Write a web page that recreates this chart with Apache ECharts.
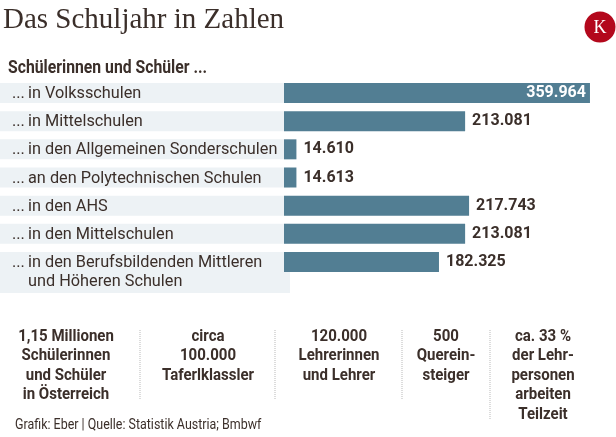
<!DOCTYPE html>
<html><head><meta charset="utf-8">
<script src="https://cdn.jsdelivr.net/npm/echarts@6/dist/echarts.min.js"></script>
<style>html,body{margin:0;padding:0;background:#fff}#c{width:616px;height:437px}</style>
</head><body><div id="c"></div>
<script>
// ---- data ----
const titleText = "Das Schuljahr in Zahlen";
const subtitleText = "Schülerinnen und Schüler ...";
const categories = [
  "... in Volksschulen",
  "... in Mittelschulen",
  "... in den Allgemeinen Sonderschulen",
  "... an den Polytechnischen Schulen",
  "... in den AHS",
  "... in den Mittelschulen",
  "... in den Berufsbildenden Mittleren\nund Höheren Schulen"
];
const values = [359964, 213081, 14610, 14613, 217743, 213081, 182325];
const statTexts = [
  "1,15 Millionen\nSchülerinnen\nund Schüler\nin Österreich",
  "circa\n100.000\nTaferlklassler",
  "120.000\nLehrerinnen\nund Lehrer",
  "500\nQuerein-\nsteiger",
  "ca. 33 %\nder Lehr-\npersonen\narbeiten\nTeilzeit"
];
const sourceText = "Grafik: Eber | Quelle: Statistik Austria; Bmbwf";

// ---- style/layout ----
const TXT = '#3b2f2a';
const BAR = '#527e93';
const BAND = '#edf2f5';
const FONT = 'Roboto, sans-serif';
const BARW = 20;
const fmt = v => String(v).replace(/\B(?=(\d{3})+(?!\d))/g, '.');
const maxV = Math.max(...values);

const chart = echarts.init(document.getElementById('c'), null, {renderer: 'canvas'});

const statCenters = [66, 208, 339, 446, 543];
const seps = [[140, 330, 400], [275, 330, 400], [402, 330, 400], [490, 330, 420]];

const graphics = [
  {type: 'text', left: 3, top: 6, style: {text: titleText, font: '29px "Liberation Serif", serif', fill: TXT}},
  {type: 'circle', shape: {cx: 600, cy: 27, r: 15.5}, style: {fill: '#b3081c'}},
  {type: 'text', x: 600, y: 28, style: {text: 'K', font: '18px "Liberation Serif", serif', fill: '#fff', align: 'center', verticalAlign: 'middle'}},
  {type: 'text', x: 8, y: 69, scaleX: 0.9, style: {text: subtitleText, font: 'bold 17.5px ' + FONT, fill: TXT, verticalAlign: 'middle'}},
  {type: 'text', x: 15, y: 425, scaleX: 0.89, style: {text: sourceText, font: '14px ' + FONT, fill: TXT, verticalAlign: 'middle'}}
];
statTexts.forEach((t, i) => {
  graphics.push({type: 'text', x: statCenters[i], y: 327, scaleX: 0.91, style: {text: t, font: 'bold 16.5px ' + FONT, fill: TXT, align: 'center', verticalAlign: 'top', lineHeight: 19.5}});
});
seps.forEach(s => {
  graphics.push({type: 'line', shape: {x1: s[0], y1: s[1], x2: s[0], y2: s[2]}, style: {stroke: '#b8b8b8', lineWidth: 1, lineDash: [1, 1]}});
});

chart.setOption({
  animation: false,
  backgroundColor: '#fff',
  graphic: graphics,
  grid: {left: 284, top: 78.9, width: 306, height: 197.2},
  xAxis: {type: 'value', min: 0, max: 360000, show: false},
  yAxis: {type: 'category', data: categories, inverse: true, show: false},
  series: [
    {
      type: 'custom', z: 1, silent: true,
      data: categories.map((c, i) => [0, i]),
      encode: {x: 0, y: 1},
      renderItem: function (params, api) {
        const i = api.value(1);
        const p = api.coord([0, i]);
        const lines = categories[i].replace(/^\.\.\.\s*/, '').split('\n');
        const top = p[1] - BARW / 2;
        const h = lines.length > 1 ? 41 : BARW;
        const ty = p[1] + 1;
        const children = [
          {type: 'rect', shape: {x: 0, y: top, width: 290, height: h}, style: {fill: BAND}},
          {type: 'text', x: 12, y: ty, style: {text: '...', font: '16.3px ' + FONT, fill: TXT, verticalAlign: 'middle'}}
        ];
        lines.forEach((l, k) => {
          children.push({type: 'text', x: 28, y: ty + k * 18.5, style: {text: l, font: '16.3px ' + FONT, fill: TXT, verticalAlign: 'middle'}});
        });
        return {type: 'group', children: children};
      }
    },
    {
      type: 'bar', z: 2, barWidth: BARW,
      itemStyle: {color: BAR},
      data: values.map(v => {
        const inside = v / maxV > 0.9;
        return {
          value: v,
          label: {
            show: true,
            position: inside ? 'insideRight' : 'right',
            distance: inside ? 4 : 7,
            formatter: p => fmt(p.value),
            color: inside ? '#fff' : TXT,
            fontFamily: FONT, fontWeight: 'bold', fontSize: 16
          }
        };
      })
    }
  ]
});
</script></body></html>
